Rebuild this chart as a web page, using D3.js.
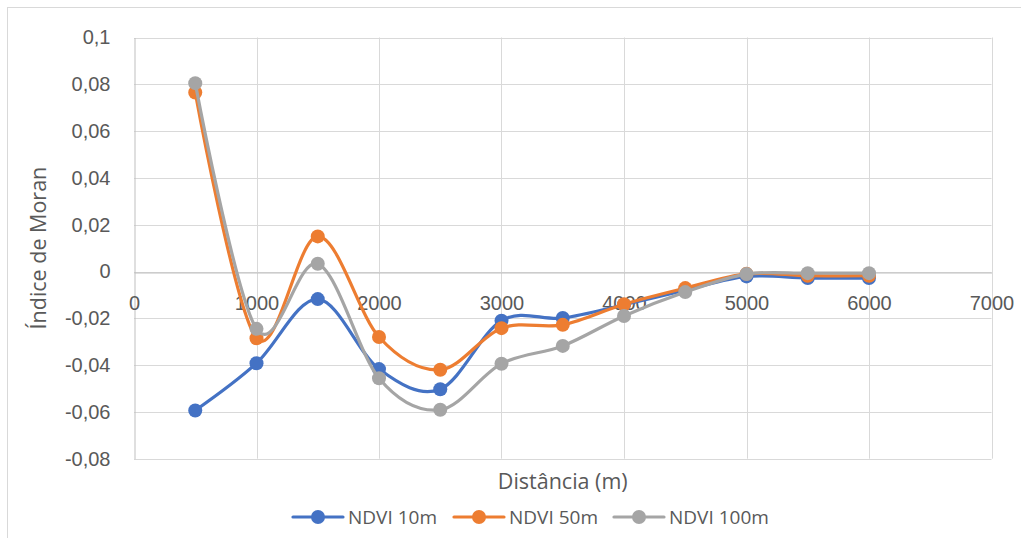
<!DOCTYPE html>
<html>
<head>
<meta charset="utf-8">
<script src="https://cdn.jsdelivr.net/npm/d3@7"></script>
<style>
  html, body { margin: 0; padding: 0; background: #fff; }
  svg { display: block; font-family: "Open Sans", "Noto Sans", sans-serif; }
</style>
</head>
<body>
<svg id="chart" width="1021" height="538"></svg>
<script>
// Distances (m) at which Moran's I was computed
const distances = [500, 1000, 1500, 2000, 2500, 3000, 3500, 4000, 4500, 5000, 5500, 6000];

// Moran's I for each NDVI resolution
const ndvi10 = [-0.0594, -0.0392, -0.0118, -0.0417, -0.0503, -0.0210, -0.0199, -0.0142, -0.0080, -0.0021, -0.0028, -0.0028];
const ndvi50 = [0.0765, -0.0285, 0.0150, -0.0280, -0.0420, -0.0242, -0.0228, -0.0140, -0.0071, -0.0010, -0.0018, -0.0018];
const ndvi100 = [0.0805, -0.0245, 0.0033, -0.0456, -0.0591, -0.0394, -0.0318, -0.0190, -0.0088, -0.0011, -0.0007, -0.0007];

const seriesNames = ["NDVI 10m", "NDVI 50m", "NDVI 100m"];
const seriesColors = ["#4472C4", "#ED7D31", "#A5A5A5"];

// Axis ticks
const xTicks = [0, 1000, 2000, 3000, 4000, 5000, 6000, 7000];
const yTicks = [-0.08, -0.06, -0.04, -0.02, 0, 0.02, 0.04, 0.06, 0.08, 0.1];

const series = [ndvi10, ndvi50, ndvi100].map((vals, i) => ({
  name: seriesNames[i],
  color: seriesColors[i],
  points: distances.map((d, j) => ({ x: d, y: vals[j] }))
}));

const svg = d3.select("#chart");
const W = 1021, H = 538;

svg.append("rect").attr("x", 0).attr("y", 0).attr("width", W).attr("height", H).attr("fill", "#fff");
// Chart frame (runs past the right and bottom edges)
svg.append("rect").attr("x", 7.5).attr("y", 7.5).attr("width", W + 20).attr("height", H + 20)
  .attr("fill", "none").attr("stroke", "#d9d9d9").attr("stroke-width", 1);

const x = d3.scaleLinear().domain([0, 7000]).range([134, 991.5]);
const y = d3.scaleLinear().domain([-0.08, 0.1]).range([458.7, 37.5]);

const numFmt = d => Math.abs(d) < 1e-9 ? "0" : String(+d.toFixed(2)).replace(".", ",");

// Gridlines
const grid = svg.append("g");
grid.selectAll("line.h").data(yTicks).join("line")
  .attr("x1", x(0)).attr("x2", x(7000))
  .attr("y1", d => Math.round(y(d)) + 0.5).attr("y2", d => Math.round(y(d)) + 0.5)
  .attr("stroke", "#d9d9d9").attr("stroke-width", 1);
grid.selectAll("line.v").data(xTicks.slice(1)).join("line")
  .attr("x1", d => Math.round(x(d)) + 0.5).attr("x2", d => Math.round(x(d)) + 0.5)
  .attr("y1", y(0.1)).attr("y2", y(-0.08))
  .attr("stroke", "#d9d9d9").attr("stroke-width", 1);

// Axes (x axis crosses at zero)
const yAxis = d3.axisLeft(y).tickValues(yTicks).tickSize(0).tickPadding(24).tickFormat(numFmt);
const gy = svg.append("g").attr("transform", `translate(${Math.round(x(0)) + 0.5},0)`).call(yAxis);
gy.select(".domain").attr("stroke", "#bfbfbf").attr("stroke-width", 1);
gy.selectAll("text").attr("font-size", 20).attr("fill", "#595959");

const xAxis = d3.axisBottom(x).tickValues(xTicks).tickSize(0).tickPadding(30)
  .tickFormat(d => String(d));
const gx = svg.append("g").attr("transform", `translate(0,${Math.round(y(0)) + 0.5})`).call(xAxis);
gx.select(".domain").attr("stroke", "#bfbfbf").attr("stroke-width", 1);
gx.selectAll("text").attr("font-size", 20).attr("fill", "#595959").attr("dy", "0.35em");

// Series lines and markers
const line = d3.line().x(d => x(d.x)).y(d => y(d.y)).curve(d3.curveCardinal.tension(0));
const gs = svg.append("g");
series.forEach(s => {
  gs.append("path").datum(s.points).attr("d", line)
    .attr("fill", "none").attr("stroke", s.color).attr("stroke-width", 3.2)
    .attr("stroke-linejoin", "round").attr("stroke-linecap", "round");
  gs.selectAll(null).data(s.points).join("circle")
    .attr("cx", d => x(d.x)).attr("cy", d => y(d.y)).attr("r", 7)
    .attr("fill", s.color);
});

// Axis titles
svg.append("text").attr("x", (x(0) + x(7000)) / 2).attr("y", 489)
  .attr("text-anchor", "middle").attr("font-size", 21.5).attr("fill", "#595959")
  .text("Distância (m)");
svg.append("text").attr("transform", `translate(46,${(y(0.1) + y(-0.08)) / 2}) rotate(-90)`)
  .attr("text-anchor", "middle").attr("font-size", 21.5).attr("fill", "#595959")
  .text("Índice de Moran");

// Legend
const legendX = [293, 454, 614];
const legendY = 517;
const lg = svg.append("g");
series.forEach((s, i) => {
  const g = lg.append("g").attr("transform", `translate(${legendX[i]},${legendY})`);
  g.append("line").attr("x1", 0).attr("x2", 50).attr("y1", 0).attr("y2", 0)
    .attr("stroke", s.color).attr("stroke-width", 3.2).attr("stroke-linecap", "round");
  g.append("circle").attr("cx", 25).attr("cy", 0).attr("r", 7).attr("fill", s.color);
  g.append("text").attr("x", 55).attr("y", 0).attr("dy", "0.35em")
    .attr("font-size", 19).attr("fill", "#595959").text(s.name);
});
</script>
</body>
</html>
